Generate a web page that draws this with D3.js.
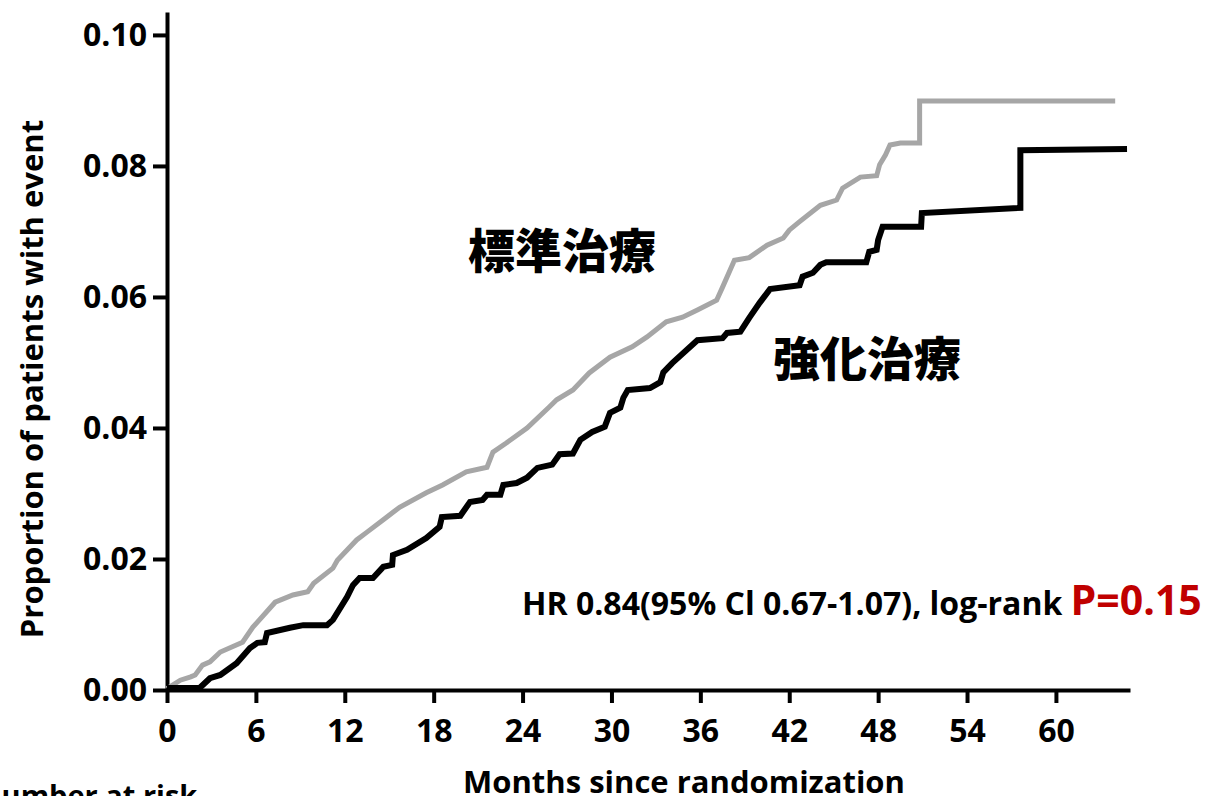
<!DOCTYPE html>
<html>
<head>
<meta charset="utf-8">
<script src="https://cdn.jsdelivr.net/npm/d3@7"></script>
<style>
  body { margin: 0; background: #fff; }
  svg { display: block; }
  text { font-family: "Open Sans", Lato, sans-serif; font-weight: 700; fill: #000; }
</style>
</head>
<body>
<svg id="chart" width="1209" height="796"></svg>
<script>
// cumulative incidence (months, proportion)
const stdMonths = [0, 0.9, 1.6, 1.9, 2.4, 2.9, 3.6, 5.1, 5.8, 7.3, 8.5, 9.5, 9.9, 11.2, 11.5, 12.8, 13.5, 14.6, 15.7, 17.5, 18.6, 20.2, 21.6, 22.0, 22.9, 24.3, 25.8, 26.3, 27.4, 28.5, 29.9, 31.4, 32.4, 33.7, 34.8, 35.8, 37.1, 37.5, 38.3, 39.3, 40.5, 41.6, 42.0, 42.7, 44.1, 45.2, 45.6, 46.8, 47.9, 48.1, 48.5, 48.8, 49.5, 50.8, 50.8, 64.0];
const stdValues = [0.0002, 0.0015, 0.0020, 0.0023, 0.0038, 0.0043, 0.0058, 0.0073, 0.0096, 0.0134, 0.0145, 0.0150, 0.0163, 0.0186, 0.0198, 0.0229, 0.0241, 0.0260, 0.0279, 0.0301, 0.0313, 0.0333, 0.0340, 0.0363, 0.0377, 0.0400, 0.0432, 0.0443, 0.0458, 0.0484, 0.0508, 0.0524, 0.0539, 0.0562, 0.0569, 0.0580, 0.0595, 0.0615, 0.0656, 0.0660, 0.0679, 0.0690, 0.0702, 0.0715, 0.0740, 0.0748, 0.0766, 0.0783, 0.0785, 0.0802, 0.0817, 0.0832, 0.0835, 0.0835, 0.0899, 0.0899];

const intMonths = [0, 2.2, 2.9, 3.6, 4.7, 5.6, 6.1, 6.6, 6.75, 8.3, 9.2, 10.8, 11.2, 12.15, 12.55, 13.0, 13.9, 14.6, 15.2, 15.25, 16.2, 17.5, 18.4, 18.55, 19.8, 20.45, 21.3, 21.6, 22.5, 22.7, 23.6, 24.3, 25.0, 26.0, 26.5, 27.4, 27.9, 28.7, 29.55, 29.9, 30.6, 30.8, 31.1, 32.6, 33.3, 33.5, 34.1, 35.8, 37.5, 37.8, 38.7, 39.3, 40.0, 40.7, 42.7, 42.9, 43.6, 44.1, 44.5, 47.2, 47.4, 47.9, 48.0, 48.3, 50.9, 50.95, 57.6, 57.6, 64.8];
const intValues = [0.0003, 0.0003, 0.0018, 0.0023, 0.0041, 0.0064, 0.0072, 0.0073, 0.0087, 0.0095, 0.0099, 0.0099, 0.0107, 0.0142, 0.0160, 0.0171, 0.0171, 0.0188, 0.0191, 0.0206, 0.0214, 0.0232, 0.0249, 0.0264, 0.0266, 0.0287, 0.0290, 0.0298, 0.0298, 0.0313, 0.0316, 0.0324, 0.0339, 0.0344, 0.0360, 0.0361, 0.0382, 0.0394, 0.0402, 0.0423, 0.0431, 0.0446, 0.0458, 0.0461, 0.0470, 0.0485, 0.0499, 0.0534, 0.0537, 0.0545, 0.0547, 0.0568, 0.0591, 0.0612, 0.0618, 0.0631, 0.0637, 0.0649, 0.0653, 0.0653, 0.0669, 0.0672, 0.0687, 0.0707, 0.0707, 0.0728, 0.0736, 0.0824, 0.0826];

const xTicks = [0, 6, 12, 18, 24, 30, 36, 42, 48, 54, 60];
const yTicks = [0, 0.02, 0.04, 0.06, 0.08, 0.10];

const svg = d3.select("#chart");

const x = d3.scaleLinear().domain([0, 65]).range([167, 1130]);
const y = d3.scaleLinear().domain([0, 0.1035]).range([690, 12]);

// axes
const yAxis = svg.append("g")
    .attr("transform", "translate(167,0)")
    .call(d3.axisLeft(y).tickValues(yTicks).tickFormat(d3.format(".2f")).tickSize(14).tickSizeOuter(0).tickPadding(6));

const xAxis = svg.append("g")
    .attr("transform", "translate(0,690)")
    .call(d3.axisBottom(x).tickValues(xTicks).tickSize(13).tickSizeOuter(0).tickPadding(16));

[yAxis, xAxis].forEach(g => {
    g.select(".domain").attr("stroke", "#000").attr("stroke-width", 4);
    g.selectAll(".tick line").attr("stroke", "#000").attr("stroke-width", 4);
    g.selectAll(".tick text")
        .attr("fill", "#000")
        .style("font-family", "'Open Sans', sans-serif")
        .style("font-weight", 700)
        .style("font-size", "32px");
});

// curves
const line = d3.line()
    .x(d => x(d[0]))
    .y(d => y(d[1]));

const stdData = stdMonths.map((m, i) => [m, stdValues[i]]);
const intData = intMonths.map((m, i) => [m, intValues[i]]);

svg.append("path")
    .datum(stdData)
    .attr("d", line)
    .attr("fill", "none")
    .attr("stroke", "#a6a6a6")
    .attr("stroke-width", 5);

svg.append("path")
    .datum(intData)
    .attr("d", line)
    .attr("fill", "none")
    .attr("stroke", "#000")
    .attr("stroke-width", 6);

// labels
svg.append("text")
    .attr("transform", "translate(43,379) rotate(-90)")
    .attr("text-anchor", "middle")
    .style("font-size", "31px")
    .text("Proportion of patients with event");

svg.append("text")
    .attr("x", 684)
    .attr("y", 793)
    .attr("text-anchor", "middle")
    .style("font-size", "31px")
    .text("Months since randomization");

svg.append("text")
    .attr("x", -22)
    .attr("y", 806)
    .style("font-size", "29px")
    .text("Number at risk");

svg.append("text")
    .attr("x", 468)
    .attr("y", 268)
    .style("font-family", "'Noto Sans CJK JP', sans-serif")
    .style("font-weight", 900)
    .style("font-size", "47px")
    .text("標準治療");

svg.append("text")
    .attr("x", 773)
    .attr("y", 376)
    .style("font-family", "'Noto Sans CJK JP', sans-serif")
    .style("font-weight", 900)
    .style("font-size", "47px")
    .text("強化治療");

const hr = svg.append("text")
    .attr("x", 522)
    .attr("y", 615)
    .style("font-size", "32px");
hr.append("tspan").text("HR 0.84(95% Cl 0.67-1.07), log-rank ");
hr.append("tspan")
    .attr("fill", "#c00000")
    .style("fill", "#c00000")
    .style("font-size", "41px")
    .text("P=0.15");
</script>
</body>
</html>
